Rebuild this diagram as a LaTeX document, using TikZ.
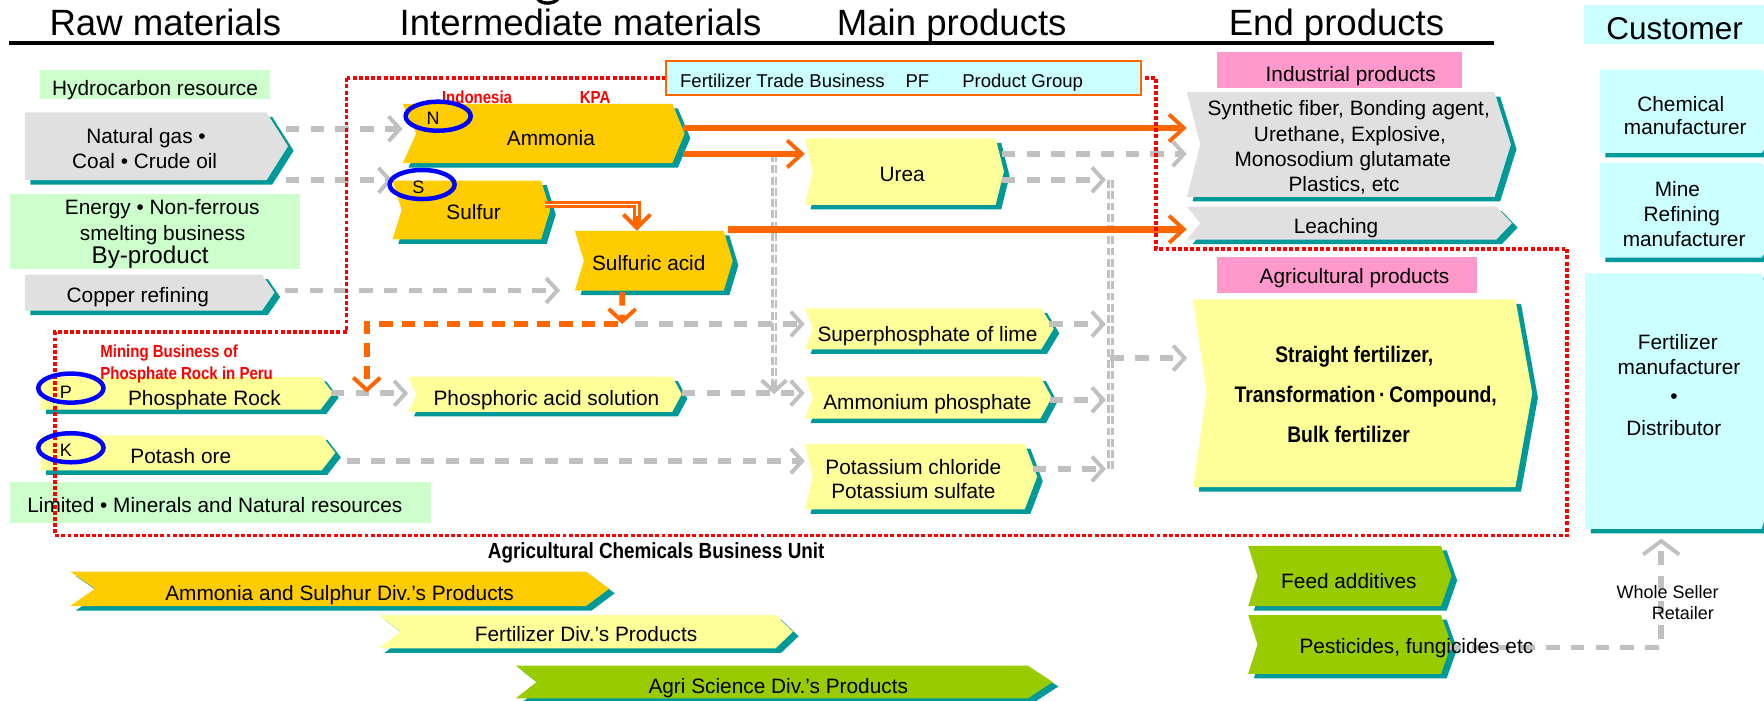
\documentclass[tikz,border=0pt]{standalone}
\usepackage{fontspec}
\setmainfont{Liberation Sans}
\newfontfamily\condb{Liberation Sans Bold}[FakeStretch=0.86]
\usetikzlibrary{arrows.meta,fit,calc}

\definecolor{cgray}{RGB}{224,224,224}
\definecolor{cteal}{RGB}{0,153,153}
\definecolor{cgold}{RGB}{255,204,0}
\definecolor{cyel}{RGB}{255,255,153}
\definecolor{cgreen}{RGB}{153,204,0}
\definecolor{cpink}{RGB}{255,153,204}
\definecolor{ccyan}{RGB}{204,255,255}
\definecolor{clgreen}{RGB}{204,255,204}
\definecolor{cred}{RGB}{255,0,0}
\definecolor{corange}{RGB}{255,102,0}
\definecolor{cblue}{RGB}{0,0,255}
\definecolor{carr}{RGB}{192,192,192}

% outline of a chevron: left x, top y, tip x, bottom y, notch depth, tip depth
\newcommand\chevpath[6]{(#1,#2) -- ({#3-#6},#2) -- (#3,{(#2+#4)/2}) -- ({#3-#6},#4) -- (#1,#4) -- ({#1+#5},{(#2+#4)/2}) -- cycle}
% chevron with teal drop shadow and a named node covering it
\newcommand\chev[8]{%
  \fill[cteal, shift={(5,4)}] \chevpath{#2}{#3}{#4}{#5}{#6}{#7};
  \fill[#8] \chevpath{#2}{#3}{#4}{#5}{#6}{#7};
  \node[fit={(#2,#3) (#4,#5)}, inner sep=0pt] (#1) {};}

\tikzset{
  lbl/.style={inner sep=0pt, anchor=base, font=\fontsize{18.5}{22}\selectfont},
  hdr/.style={lbl, font=\fontsize{32.5}{38}\selectfont},
  bigb/.style={lbl, font=\condb\fontsize{20}{24}\selectfont},
  redl/.style={lbl, text=cred, font=\condb\fontsize{15.5}{18}\selectfont},
  unitlbl/.style={lbl, font=\condb\fontsize{19.5}{22}\selectfont},
  smalllbl/.style={lbl, font=\fontsize{16}{19}\selectfont},
  letter/.style={lbl, font=\fontsize{16}{19}\selectfont},
  tradelbl/.style={lbl, font=\fontsize{16.5}{19}\selectfont},
  plainbox/.style={inner sep=0pt},
  garr/.style={draw=carr, line width=5pt, dash pattern=on 12pt off 10pt,
    -{Straight Barb[length=10pt,width=22pt,line width=3.5pt]}},
  gline/.style={draw=carr, double=white, double distance=0.8pt, line width=2.6pt,
    dash pattern=on 7pt off 3pt},
  garrup/.style={draw=carr, line width=5pt, dash pattern=on 12pt off 10pt,
    -{Straight Barb[length=12pt,width=32pt,line width=3.5pt]}},
  oarr/.style={draw=corange, line width=6pt,
    -{Straight Barb[length=13pt,width=24pt,line width=3.5pt]}},
  ostem/.style={draw=corange, line width=6.5pt,
    -{Straight Barb[length=12pt,width=24pt,line width=3.5pt]}},
  odash/.style={draw=corange, line width=5pt, dash pattern=on 12pt off 8pt,
    -{Straight Barb[length=11pt,width=24pt,line width=3.5pt]}},
  reddot/.style={draw=cred, line width=3.5pt, dash pattern=on 3.5pt off 2pt},
  ring/.style={draw=cblue, line width=4pt},
}

\begin{document}
\begin{tikzpicture}[x=1pt,y=-1pt]
\useasboundingbox (0,0) rectangle (1568,623);
\begin{scope}
\clip (0,0) rectangle (1568,623);
\fill[white] (0,0) rectangle (1568,623);

% ---------- column headings ----------
\node[hdr] (h-raw) at (147,32) {Raw materials};
\node[hdr] (h-int) at (516,32) {Intermediate materials};
\node[hdr] (h-main) at (846,32) {Main products};
\node[hdr] (h-end) at (1188,32) {End products};
\draw[line width=3.5pt] (h-raw.base -| 8,0) ++(0,6.5) -- ++(1320,0);
\draw[line width=3pt] (478,-1) .. controls (481,4) and (492,4) .. (496,-1);
\node[plainbox, fit={(1408,4.4) (1580,39.4)}, fill=ccyan] (custh) {};
\node[lbl, font=\fontsize{28}{32}\selectfont] (custh-t) at (1488.6,35.5) {Customer};

% ---------- raw materials ----------
\node[plainbox, fit={(35.7,62.2) (239.8,88)}, fill=clgreen] (hydro) {};
\chev{ng}{22}{100}{256}{160}{0}{19}{cgray}
\node[plainbox, fit={(8.5,172.7) (266.4,239.4)}, fill=clgreen] (energy) {};
\chev{copper}{22}{244}{244}{276}{0}{11}{cgray}
\chev{prock}{36}{335}{296}{364}{0}{11}{cyel}
\chev{potash}{36}{387}{298}{418}{0}{12}{cyel}
\node[plainbox, fit={(8.5,428) (382.7,465)}, fill=clgreen] (limited) {};

% ---------- intermediate materials ----------
\chev{amm}{358}{92.4}{608.6}{145}{12}{11}{cgold}
\chev{sul}{349}{160.6}{489}{212.7}{8}{8}{cgold}
\chev{sacid}{511}{205.3}{651.3}{258.4}{8}{8}{cgold}
\chev{phacid}{363}{334.8}{606}{366}{7}{8.4}{cyel}

% ---------- main products ----------
\chev{urea}{715.5}{123}{892.4}{182}{7}{7.4}{cyel}
\chev{superp}{715.5}{274}{936.6}{310.5}{7}{11}{cyel}
\chev{ammp}{715.5}{334.8}{934.8}{372}{7}{10}{cyel}
\chev{potk}{715.5}{394.7}{921.9}{452.7}{7}{11}{cyel}

% ---------- end products ----------
\node[plainbox, fit={(1082,46.5) (1299.6,78)}, fill=cpink] (indlab) {};
\chev{ind}{1055}{82}{1343}{175}{12}{14.5}{cgray}
\chev{leach}{1055}{183.7}{1344}{213}{12}{14}{cgray}
\node[plainbox, fit={(1082,228.7) (1313,260)}, fill=cpink] (agrlab) {};
\chev{agr}{1060.5}{266}{1362}{433}{12}{15}{cyel}
\chev{feed}{1109.5}{485.3}{1290.2}{538.7}{8.3}{9.3}{cgreen}
\chev{pest}{1109.5}{546.7}{1290.2}{599}{8.3}{9.3}{cgreen}

% ---------- customers ----------
\chev{chem}{1422}{62}{1590}{136}{0}{24}{ccyan}
\chev{mine}{1422}{145}{1590}{229}{0}{24}{ccyan}
\chev{fert}{1409}{243}{1600}{470}{0}{34}{ccyan}

% ---------- division bars ----------
\chev{divas}{62.4}{508}{541.4}{538.7}{22}{20.5}{cgold}
\chev{divf}{336.8}{546.7}{704.9}{576.3}{19}{15.6}{cyel}
\chev{divag}{458.5}{591.7}{935.7}{620.7}{18.5}{22}{cgreen}

% ---------- junction points ----------
\coordinate (jSA) at (553,288);
\coordinate (jOr) at (326,349);
\coordinate (jU) at (688,137);
\coordinate (colTop) at (987,160);
\coordinate (colBot) at (987,417);

% ---------- grey flows ----------
\draw[garr] ($(ng.north east)+(-2,14.7)$) coordinate (p1) -- (p1 -| amm.west);
\draw[garr] ($(ng.south east)+(-2,0)$) coordinate (p2) -- (p2 -| sul.west);
\draw[garr, shorten >=13pt] ($(copper.north east)+(9,14.4)$) coordinate (p3) -- (p3 -| sacid.west);
\draw[garr] ($(prock.north east)+(-2,14.8)$) coordinate (p4) -- (p4 -| phacid.west);
\draw[garr] ($(potash.north east)+(10,23)$) coordinate (p5) -- (p5 -| potk.west);
\draw[garr] ($(phacid.north east)+(0,14.8)$) coordinate (p6) -- (p6 -| ammp.west);
\draw[garr] ($(jSA)+(11,0)$) coordinate (p7) -- (p7 -| superp.west);
\draw[gline] (jU) -- ($(jU |- phacid.east)+(0,-10)$);
\draw[garr] ($(jU |- phacid.east)+(0,-12)$) -- (jU |- phacid.east);
\draw[garr] ($(urea.north east)+(-2,14)$) coordinate (p9) -- (p9 -| ind.west);
\draw[garr, shorten >=4pt] ($(urea.north east)+(-2,37)$) coordinate (p10) -- (p10 -| colTop);
\draw[garr, shorten >=4pt] ($(superp.north east)+(-4,14.3)$) coordinate (p11) -- (p11 -| colTop);
\draw[garr, shorten >=4pt] ($(ammp.north east)+(-2,20.8)$) coordinate (p12) -- (p12 -| colTop);
\draw[garr, shorten >=4pt] ($(potk.north east)+(-4,22.3)$) coordinate (p13) -- (p13 -| colTop);
\draw[gline] (colTop) -- (colBot);
\coordinate (p14) at ($(agr.north west)+(0,52.5)$);
\draw[garr, shorten >=5pt] (p14 -| colTop) -- (p14);
\draw[garrup] ($(pest.east)+(-4,2.8)$) -| ($(fert.south)+(-27.9,8.5)$);

% ---------- orange flows ----------
\draw[oarr] ($(amm.north east)+(-2,21.6)$) coordinate (q1) -- (q1 -| ind.west);
\draw[oarr] ($(amm.north east)+(-2,44.6)$) coordinate (q2) -- (q2 -| urea.west);
\draw[ostem] ($(sul.north east)+(-5,21.4)$) coordinate (q3) -| ($(sacid.north)+(-15,0)$);
\draw[white, line width=1.2pt, shorten >=13pt] (q3) -| ($(sacid.north)+(-15,0)$);
\draw[oarr] ($(sacid.north east)+(-4,-1.3)$) coordinate (q4) -- (q4 -| leach.west);
\draw[odash] ($(sacid.south)+(-28,1)$) -- (jSA);
\draw[odash] ($(jSA)+(-4,0)$) -| (jOr);

% ---------- business unit outline ----------
\draw[reddot] (308,69) -- (1027.5,69) -- (1027.5,221) -- (1393,221) -- (1393,476)
  -- (49,476) -- (49,295) -- (308,295) -- cycle;
\node[plainbox, fit={(592,54) (1014,84.4)}, fill=ccyan, draw=corange, line width=1.5pt] (trade) {};
\node[tradelbl] (trade-t1) at (695.5,77.6) {Fertilizer Trade Business};
\node[tradelbl] (trade-t2) at (815.5,77.6) {PF};
\node[tradelbl] (trade-t3) at (909,77.6) {Product Group};

% ---------- texts ----------
\node[lbl] (hydro-t) at (137.8,85) {Hydrocarbon resource};
\node[lbl] (ng-t1) at (129.8,128) {Natural gas •};
\node[lbl] (ng-t2) at (128.6,150.2) {Coal • Crude oil};
\node[lbl] (energy-t1) at (144.2,191) {Energy • Non-ferrous};
\node[lbl] (energy-t2) at (144.6,214) {smelting business};
\node[lbl, font=\fontsize{21.5}{24}\selectfont] (energy-t3) at (133.5,234) {By-product};
\node[lbl] (copper-t) at (122.5,269) {Copper refining};
\node[lbl] (prock-t) at (181.7,360) {Phosphate Rock};
\node[lbl] (potash-t) at (160.7,412) {Potash ore};
\node[lbl] (limited-t) at (191,455.5) {Limited • Minerals and Natural resources};
\node[lbl] (amm-t) at (489.7,129) {Ammonia};
\node[lbl] (sul-t) at (421,195.5) {Sulfur};
\node[lbl] (sacid-t) at (576.7,240.5) {Sulfuric acid};
\node[lbl] (phacid-t) at (485.7,360) {Phosphoric acid solution};
\node[lbl] (urea-t) at (802,161) {Urea};
\node[lbl] (superp-t) at (824.4,303.7) {Superphosphate of lime};
\node[lbl] (ammp-t) at (824.4,364.3) {Ammonium phosphate};
\node[lbl] (potk-t1) at (811.9,421.8) {Potassium chloride};
\node[lbl] (potk-t2) at (811.9,443.5) {Potassium sulfate};
\node[lbl] (indlab-t) at (1200.6,72.3) {Industrial products};
\node[lbl] (ind-t1) at (1198.8,102.5) {Synthetic fiber, Bonding agent,};
\node[lbl] (ind-t2) at (1200,125.5) {Urethane, Explosive,};
\node[lbl] (ind-t3) at (1193.6,148) {Monosodium glutamate};
\node[lbl] (ind-t4) at (1194.7,170.5) {Plastics, etc};
\node[lbl] (leach-t) at (1187.6,207.5) {Leaching};
\node[lbl] (agrlab-t) at (1204,252) {Agricultural products};
\node[bigb] (agr-t1) at (1203.8,322.5) {Straight fertilizer,};
\node[bigb] (agr-t2) at (1213.9,358) {Transformation\,·\,Compound,};
\node[bigb] (agr-t3) at (1198.7,393.3) {Bulk fertilizer};
\node[lbl] (chem-t1) at (1494,99.3) {Chemical};
\node[lbl] (chem-t2) at (1498,120) {manufacturer};
\node[lbl] (mine-t1) at (1491,174.8) {Mine};
\node[lbl] (mine-t2) at (1495,197) {Refining};
\node[lbl] (mine-t3) at (1497,218.7) {manufacturer};
\node[lbl] (fert-t1) at (1491.4,311) {Fertilizer};
\node[lbl] (fert-t2) at (1492.4,333.3) {manufacturer};
\node[lbl] (fert-t3) at (1488,359) {•};
\node[lbl] (fert-t4) at (1487.8,386.7) {Distributor};
\node[lbl] (feed-t) at (1199,523) {Feed additives};
\node[lbl] (pest-t) at (1259,580.7) {Pesticides, fungicides etc};
\node[smalllbl] (ws-t1) at (1482.3,532) {Whole Seller};
\node[smalllbl] (ws-t2) at (1495.8,551) {Retailer};
\node[lbl] (divas-t) at (301.9,533.5) {Ammonia and Sulphur Div.’s Products};
\node[lbl] (divf-t) at (520.9,570.5) {Fertilizer Div.’s Products};
\node[lbl] (divag-t) at (691.8,616.3) {Agri Science Div.’s Products};
\node[unitlbl] (acbu-t) at (583.3,496.3) {Agricultural Chemicals Business Unit};

% ---------- red captions ----------
\node[redl] (lab-ind) at (424,92.4) {Indonesia};
\node[redl] (lab-kpa) at (529,92.4) {KPA};
\node[redl, anchor=base west] (lab-peru1) at (89,317.6) {Mining Business of};
\node[redl, anchor=base west] (lab-peru2) at (89,337.2) {Phosphate Rock in Peru};

% ---------- element rings ----------
\draw[ring] (389.5,103.3) ellipse [x radius=28.9, y radius=12.9];
\draw[ring] (375.2,164) ellipse [x radius=28.9, y radius=12.9];
\draw[ring] (63,345) ellipse [x radius=29, y radius=12.9];
\draw[ring] (63,398) ellipse [x radius=29, y radius=12.9];
\node[letter] (el-n) at (385,111) {N};
\node[letter] (el-s) at (371.8,172) {S};
\node[letter] (el-p) at (58.5,354) {P};
\node[letter] (el-k) at (58.5,406) {K};
\end{scope}
\end{tikzpicture}
\end{document}
